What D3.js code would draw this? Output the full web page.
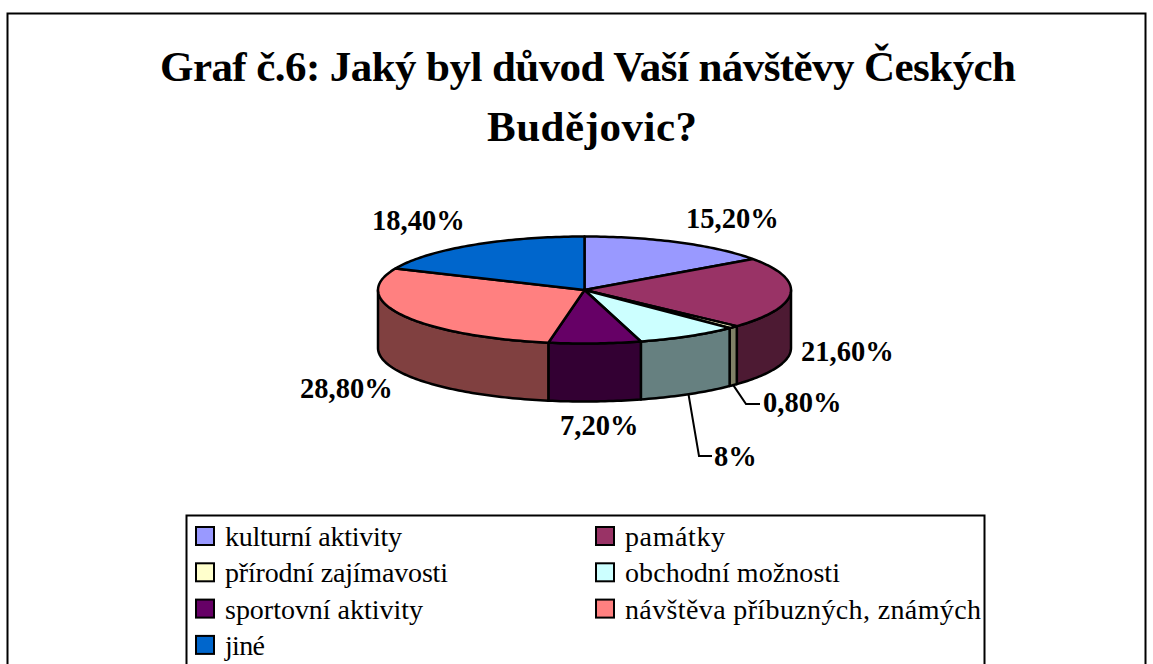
<!DOCTYPE html>
<html>
<head>
<meta charset="utf-8">
<title>Graf č.6</title>
<script src="https://d3js.org/d3.v7.min.js"></script>
<style>
    html, body { margin: 0; padding: 0; background: #fff; overflow: hidden; }
    text { font-family: "Liberation Serif", serif; fill: #000; }
</style>
</head>
<body>
<div id="chart"></div>
<script>
var categories = ["kulturní aktivity", "památky", "přírodní zajímavosti", "obchodní možnosti",
    "sportovní aktivity", "návštěva příbuzných, známých", "jiné"];
var values = [15.2, 21.6, 0.8, 8, 7.2, 28.8, 18.4];
var valueLabels = ["15,20%", "21,60%", "0,80%", "8%", "7,20%", "28,80%", "18,40%"];
var colors = ["#9999ff", "#993366", "#ffffcc", "#ccffff", "#660066", "#ff8080", "#0066cc"];
var titleLines = ["Graf č.6: Jaký byl důvod Vaší návštěvy Českých", "Budějovic?"];

var width = 1153, height = 664;
var svg = d3.select("#chart").append("svg")
    .attr("width", width)
    .attr("height", height)
    .style("display", "block");

// outer frame, runs off the bottom of the picture
svg.append("rect")
    .attr("x", 7.5).attr("y", 13.5)
    .attr("width", 1138).attr("height", 700)
    .attr("fill", "#fff").attr("stroke", "#000").attr("stroke-width", 2);

// reference text is set tighter than the font, so widths are forced
var titleX = [160, 487], titleY = [81, 141], titleW = [856, 210];
svg.selectAll(".title").data(titleLines).enter().append("text")
    .attr("class", "title")
    .attr("x", function (d, i) { return titleX[i]; })
    .attr("y", function (d, i) { return titleY[i]; })
    .attr("textLength", function (d, i) { return titleW[i]; })
    .attr("lengthAdjust", "spacing")
    .style("font-size", "43px")
    .style("font-weight", "bold")
    .text(function (d) { return d; });

// the pie is a unit circle squashed into an ellipse
var depth = 58;
var x = d3.scaleLinear().domain([-1, 1]).range([378, 791]);
var y = d3.scaleLinear().domain([-1, 1]).range([236.5, 343.5]);
var px = function (a) { return x(Math.sin(a)); };
var py = function (a) { return y(-Math.cos(a)); };

var pie = d3.pie().sort(null).value(function (d) { return d; });
var slices = pie(values);
slices.forEach(function (s, i) { s.color = colors[i]; s.label = valueLabels[i]; s.mid = (s.startAngle + s.endAngle) / 2; });

var line = d3.line();
function arcPoints(a0, a1, dy) {
    var n = Math.max(2, Math.ceil((a1 - a0) / 0.02));
    return d3.range(n + 1).map(function (i) {
        var a = a0 + (a1 - a0) * i / n;
        return [px(a), py(a) + dy];
    });
}
function halfTone(c) {
    var r = d3.rgb(c);
    return d3.rgb(r.r * 0.5, r.g * 0.5, r.b * 0.5).formatHex();
}

// side walls, only the front half of the pie shows them
var front = slices.filter(function (s) { return s.endAngle > Math.PI / 2 && s.startAngle < 1.5 * Math.PI; });
svg.selectAll(".side").data(front).enter().append("path")
    .attr("class", "side")
    .attr("d", function (s) {
        var a0 = Math.max(s.startAngle, Math.PI / 2), a1 = Math.min(s.endAngle, 1.5 * Math.PI);
        return line(arcPoints(a0, a1, 0).concat(arcPoints(a0, a1, depth).reverse())) + "Z";
    })
    .attr("fill", function (s) { return halfTone(s.color); })
    .attr("stroke", "#000").attr("stroke-width", 2.5).attr("stroke-linejoin", "round");

svg.selectAll(".top").data(slices).enter().append("path")
    .attr("class", "top")
    .attr("d", function (s) {
        return line([[x(0), y(0)]].concat(arcPoints(s.startAngle, s.endAngle, 0))) + "Z";
    })
    .attr("fill", function (s) { return s.color; })
    .attr("stroke", "#000").attr("stroke-width", 2.5).attr("stroke-linejoin", "round");

// value labels, [x, y] of the text start
var labelPos = [[686, 228], [801, 361], [763, 412], [714, 466], [560, 435], [300, 398], [372, 230]];
svg.selectAll(".value").data(slices).enter().append("text")
    .attr("class", "value")
    .attr("x", function (s, i) { return labelPos[i][0]; })
    .attr("y", function (s, i) { return labelPos[i][1]; })
    .style("font-size", "28.5px")
    .style("font-weight", "bold")
    .text(function (s) { return s.label; });

// leader lines for the two thin slices
var leaderEnds = { 2: [[746, 404], [760, 404]], 3: [[699, 456], [712, 456]] };
Object.keys(leaderEnds).forEach(function (k) {
    var s = slices[k];
    svg.append("path")
        .attr("d", line([[px(s.mid), py(s.mid) + depth]].concat(leaderEnds[k])))
        .attr("fill", "none").attr("stroke", "#000").attr("stroke-width", 2);
});

// legend
svg.append("rect")
    .attr("x", 186.5).attr("y", 515.5)
    .attr("width", 798).attr("height", 200)
    .attr("fill", "#fff").attr("stroke", "#000").attr("stroke-width", 2);

var legendW = [177, 100, 223, 215, 198, 356, 40];
var legend = svg.selectAll(".legend").data(categories).enter().append("g")
    .attr("class", "legend")
    .attr("transform", function (d, i) {
        return "translate(" + (196 + (i % 2) * 400) + "," + (527 + Math.floor(i / 2) * 36.3) + ")";
    });
legend.append("rect")
    .attr("width", 18).attr("height", 18)
    .attr("fill", function (d, i) { return colors[i]; })
    .attr("stroke", "#000").attr("stroke-width", 2);
legend.append("text")
    .attr("x", 29).attr("y", 19)
    .attr("textLength", function (d, i) { return legendW[i]; })
    .attr("lengthAdjust", "spacing")
    .style("font-size", "28px")
    .text(function (d) { return d; });
</script>
</body>
</html>
